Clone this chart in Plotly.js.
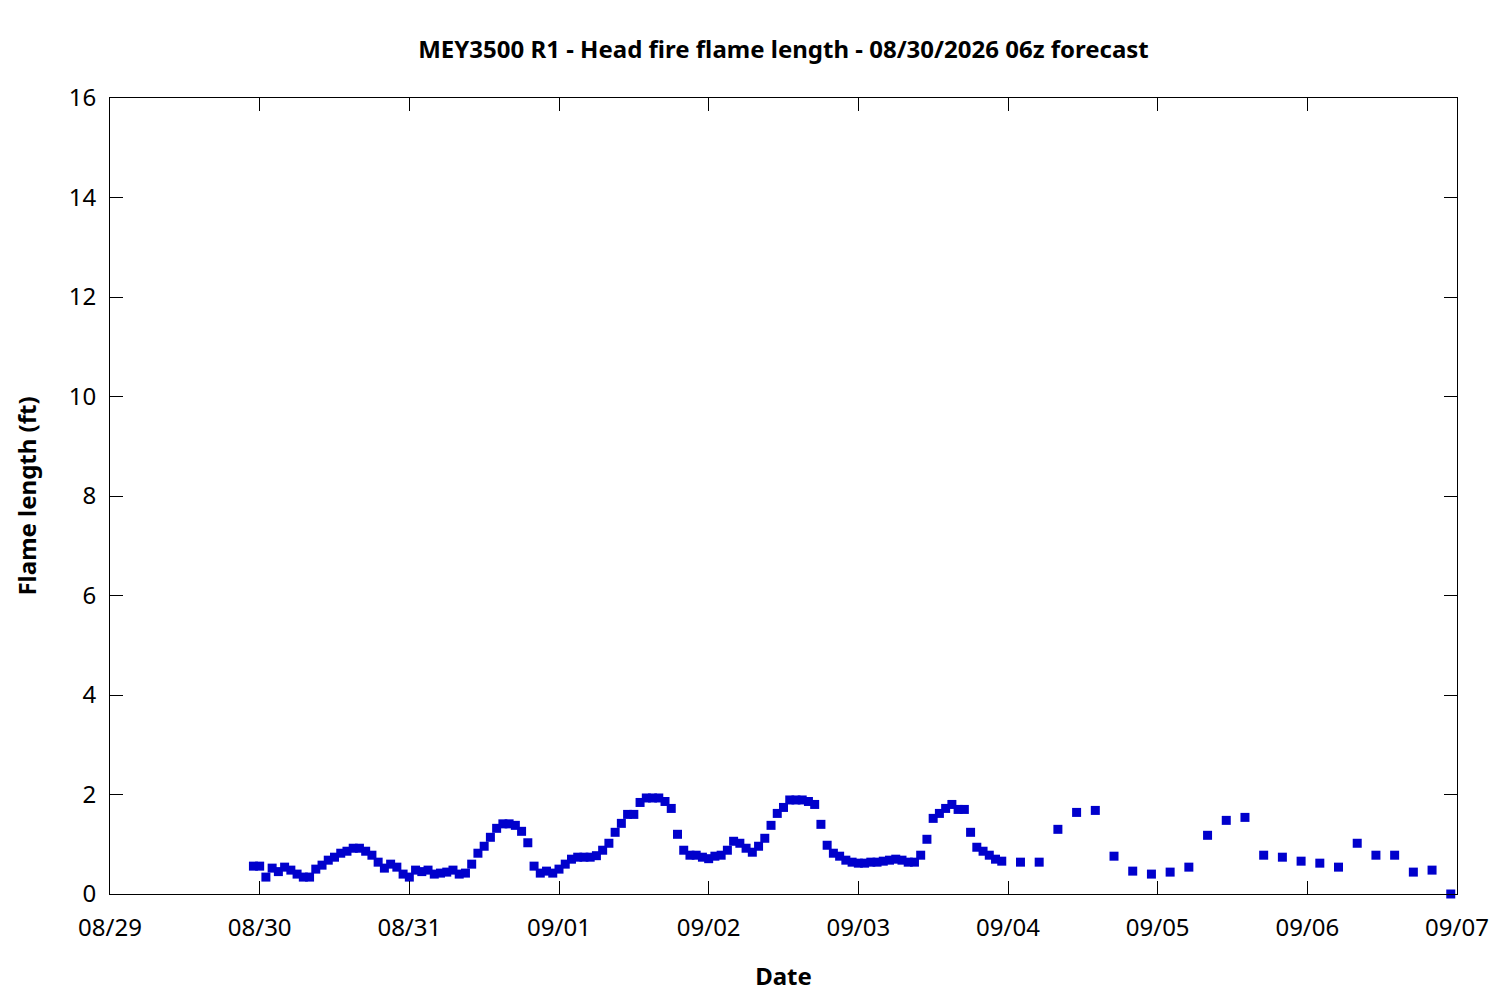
<!DOCTYPE html>
<html>
<head>
<meta charset="utf-8">
<script src="https://cdn.plot.ly/plotly-3.0.1.min.js"></script>
<style>html,body{margin:0;padding:0;background:#fff;}#chart{width:1500px;height:1000px;}</style>
</head>
<body>
<div id="chart"></div>
<script>
const times = [
"2026-08-29 23:00",
"2026-08-30 00:00","2026-08-30 01:00","2026-08-30 02:00","2026-08-30 03:00","2026-08-30 04:00","2026-08-30 05:00",
"2026-08-30 06:00","2026-08-30 07:00","2026-08-30 08:00","2026-08-30 09:00","2026-08-30 10:00","2026-08-30 11:00",
"2026-08-30 12:00","2026-08-30 13:00","2026-08-30 14:00","2026-08-30 15:00","2026-08-30 16:00","2026-08-30 17:00",
"2026-08-30 18:00","2026-08-30 19:00","2026-08-30 20:00","2026-08-30 21:00","2026-08-30 22:00","2026-08-30 23:00",
"2026-08-31 00:00","2026-08-31 01:00","2026-08-31 02:00","2026-08-31 03:00","2026-08-31 04:00","2026-08-31 05:00",
"2026-08-31 06:00","2026-08-31 07:00","2026-08-31 08:00","2026-08-31 09:00","2026-08-31 10:00","2026-08-31 11:00",
"2026-08-31 12:00","2026-08-31 13:00","2026-08-31 14:00","2026-08-31 15:00","2026-08-31 16:00","2026-08-31 17:00",
"2026-08-31 18:00","2026-08-31 19:00","2026-08-31 20:00","2026-08-31 21:00","2026-08-31 22:00","2026-08-31 23:00",
"2026-09-01 00:00","2026-09-01 01:00","2026-09-01 02:00","2026-09-01 03:00","2026-09-01 04:00","2026-09-01 05:00",
"2026-09-01 06:00","2026-09-01 07:00","2026-09-01 08:00","2026-09-01 09:00","2026-09-01 10:00","2026-09-01 11:00",
"2026-09-01 12:00","2026-09-01 13:00","2026-09-01 14:00","2026-09-01 15:00","2026-09-01 16:00","2026-09-01 17:00",
"2026-09-01 18:00","2026-09-01 19:00","2026-09-01 20:00","2026-09-01 21:00","2026-09-01 22:00","2026-09-01 23:00",
"2026-09-02 00:00","2026-09-02 01:00","2026-09-02 02:00","2026-09-02 03:00","2026-09-02 04:00","2026-09-02 05:00",
"2026-09-02 06:00","2026-09-02 07:00","2026-09-02 08:00","2026-09-02 09:00","2026-09-02 10:00","2026-09-02 11:00",
"2026-09-02 12:00","2026-09-02 13:00","2026-09-02 14:00","2026-09-02 15:00","2026-09-02 16:00","2026-09-02 17:00",
"2026-09-02 18:00","2026-09-02 19:00","2026-09-02 20:00","2026-09-02 21:00","2026-09-02 22:00","2026-09-02 23:00",
"2026-09-03 00:00","2026-09-03 01:00","2026-09-03 02:00","2026-09-03 03:00","2026-09-03 04:00","2026-09-03 05:00",
"2026-09-03 06:00","2026-09-03 07:00","2026-09-03 08:00","2026-09-03 09:00","2026-09-03 10:00","2026-09-03 11:00",
"2026-09-03 12:00","2026-09-03 13:00","2026-09-03 14:00","2026-09-03 15:00","2026-09-03 16:00","2026-09-03 17:00",
"2026-09-03 18:00","2026-09-03 19:00","2026-09-03 20:00","2026-09-03 21:00","2026-09-03 22:00","2026-09-03 23:00",
"2026-09-04 02:00","2026-09-04 05:00","2026-09-04 08:00","2026-09-04 11:00","2026-09-04 14:00","2026-09-04 17:00",
"2026-09-04 20:00","2026-09-04 23:00",
"2026-09-05 02:00","2026-09-05 05:00","2026-09-05 08:00","2026-09-05 11:00","2026-09-05 14:00","2026-09-05 17:00",
"2026-09-05 20:00","2026-09-05 23:00",
"2026-09-06 02:00","2026-09-06 05:00","2026-09-06 08:00","2026-09-06 11:00","2026-09-06 14:00","2026-09-06 17:00",
"2026-09-06 20:00","2026-09-06 23:00"
];
const flameLength = [
0.56,
0.56,0.34,0.52,0.45,0.54,0.48,0.40,0.34,0.34,0.50,0.58,0.68,
0.74,0.82,0.86,0.92,0.92,0.86,0.78,0.64,0.52,0.60,0.54,0.40,
0.34,0.48,0.45,0.48,0.40,0.42,0.44,0.48,0.40,0.42,0.60,0.82,
0.96,1.14,1.32,1.41,1.41,1.38,1.26,1.03,0.56,0.42,0.46,0.42,
0.50,0.60,0.70,0.74,0.74,0.74,0.77,0.88,1.02,1.24,1.42,1.60,
1.60,1.84,1.93,1.93,1.93,1.86,1.72,1.20,0.88,0.78,0.78,0.74,
0.71,0.76,0.78,0.88,1.06,1.02,0.92,0.84,0.96,1.12,1.38,1.62,
1.74,1.89,1.89,1.89,1.86,1.80,1.40,0.98,0.82,0.76,0.68,0.64,
0.62,0.62,0.64,0.64,0.66,0.68,0.70,0.68,0.64,0.64,0.78,1.10,
1.52,1.62,1.72,1.80,1.70,1.70,1.24,0.94,0.86,0.78,0.70,0.66,
0.64,0.64,1.30,1.64,1.68,0.76,0.46,0.40,
0.44,0.54,1.18,1.48,1.54,0.78,0.74,0.66,
0.62,0.54,1.02,0.78,0.78,0.44,0.48,0.00
];
const xRange = ["2026-08-29 00:00","2026-09-07 00:00"];
const yRange = [0, 16];
const titleText = "MEY3500 R1 - Head fire flame length - 08/30/2026 06z forecast";
const xTitle = "Date";
const yTitle = "Flame length (ft)";

const FONT = "Noto Sans, Open Sans, DejaVu Sans, sans-serif";
const FS = 24;
const trace = {
  x: times, y: flameLength, type: "scatter", mode: "markers", cliponaxis: false,
  marker: {symbol: "square", size: 9, color: "#0000cc", line: {width: 0}},
  hoverinfo: "x+y", showlegend: false
};
const layout = {
  width: 1500, height: 1000,
  margin: {l: 110, r: 43, t: 98, b: 106, pad: 0},
  paper_bgcolor: "#ffffff", plot_bgcolor: "#ffffff",
  font: {family: FONT, color: "#000", size: FS},
  title: {text: "<b>" + titleText + "</b>", font: {family: FONT, size: FS, color: "#000"},
          x: 0.5, xref: "paper", y: 0.95, yref: "container", yanchor: "middle"},
  xaxis: {
    type: "date", range: xRange, dtick: 86400000, tick0: "2026-08-29",
    tickformat: "%m/%d", ticks: "inside", ticklen: 13, tickwidth: 1, tickcolor: "#000",
    showline: true, linecolor: "#000", linewidth: 1, mirror: "ticks",
    showgrid: false, zeroline: false, ticklabelstandoff: 12,
    tickfont: {family: FONT, size: FS, color: "#000"},
    title: {text: "<b>" + xTitle + "</b>", font: {family: FONT, size: FS, color: "#000"}, standoff: 26}
  },
  yaxis: {
    range: yRange, dtick: 2, ticks: "inside", ticklen: 13, tickwidth: 1, tickcolor: "#000",
    showline: true, linecolor: "#000", linewidth: 1, mirror: "ticks",
    showgrid: false, zeroline: false, ticklabelstandoff: 8,
    tickfont: {family: FONT, size: FS, color: "#000"},
    title: {text: "<b>" + yTitle + "</b>", font: {family: FONT, size: FS, color: "#000"}, standoff: 25}
  }
};
Plotly.newPlot("chart", [trace], layout, {displayModeBar: false, staticPlot: true});
</script>
</body>
</html>
